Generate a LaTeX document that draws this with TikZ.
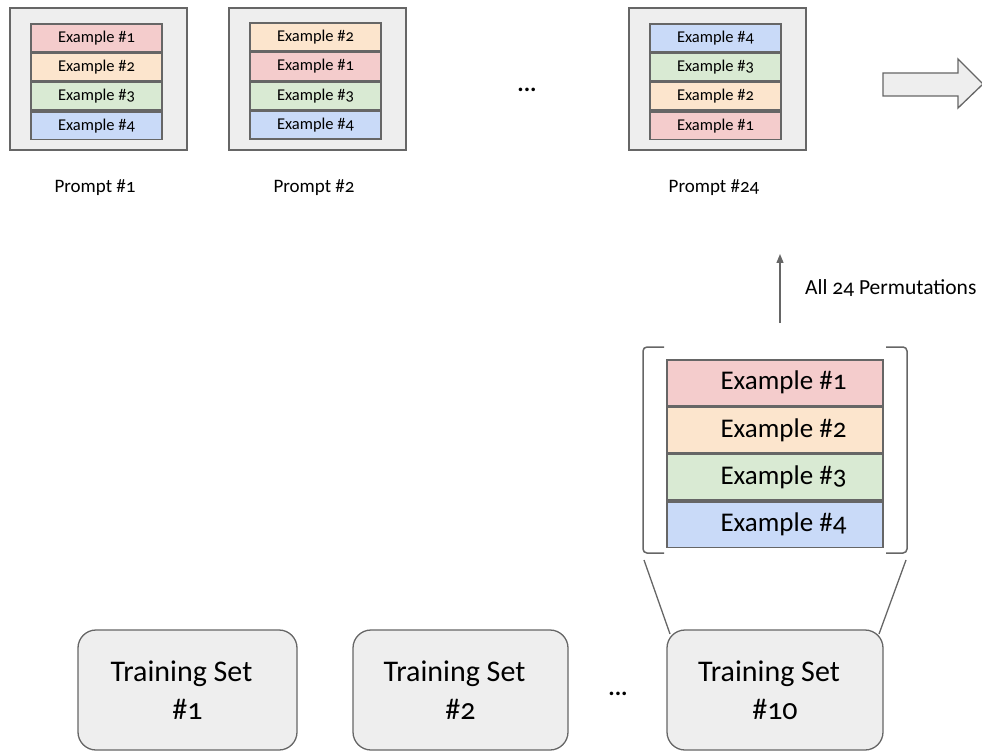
\documentclass[tikz,border=0pt]{standalone}
\usepackage{fontspec}
\setmainfont{Carlito}[Numbers=OldStyle]
\usetikzlibrary{arrows.meta}
\definecolor{rowred}{HTML}{F4CCCC}
\definecolor{roworange}{HTML}{FCE5CD}
\definecolor{rowgreen}{HTML}{D9EAD3}
\definecolor{rowblue}{HTML}{C9DAF8}
\definecolor{panel}{HTML}{EEEEEE}
\definecolor{edge}{HTML}{666666}
\begin{document}
\begin{tikzpicture}[x=1pt,y=-1pt,
  frame/.style={draw=edge, fill=panel, line width=1.6pt, minimum width=177pt, minimum height=142pt, inner sep=0pt},
  srow/.style={draw=edge, line width=1.6pt, minimum width=131pt, minimum height=27.75pt, inner sep=0pt, anchor=north, font=\fontsize{16.5}{18}\selectfont},
  brow/.style={draw=edge, line width=1.6pt, minimum width=216pt, minimum height=45.75pt, inner sep=0pt, anchor=north, font=\fontsize{27}{30}\selectfont},
  tset/.style={draw=edge, fill=panel, line width=1.3pt, rounded corners=18pt, minimum height=120pt, inner sep=0pt, align=center, font=\fontsize{30}{38}\selectfont},
  caption/.style={font=\fontsize{19}{22}\selectfont, inner sep=0pt},
  dots/.style={font=\bfseries\fontsize{24}{24}\selectfont, inner sep=0pt},
  conn/.style={draw=edge, line width=1.3pt},
  bracket/.style={draw=edge, line width=1.5pt, rounded corners=4pt}
]
\useasboundingbox (0,0) rectangle (982,751);

% Prompt #1
\node[frame] (p1) at (98.5,79) {};
\node[srow, fill=rowred]    (p1a) at (96.5,23) {Example \#1};
\node[srow, fill=roworange] (p1b) at (p1a.south) {Example \#2};
\node[srow, fill=rowgreen]  (p1c) at (p1b.south) {Example \#3};
\node[srow, fill=rowblue]   (p1d) at (p1c.south) {Example \#4};
\node[caption] (c1) at (95,188) {Prompt \#1};

% Prompt #2
\node[frame] (p2) at (317.5,79) {};
\node[srow, fill=roworange] (p2a) at (315.5,22.5) {Example \#2};
\node[srow, fill=rowred]    (p2b) at (p2a.south) {Example \#1};
\node[srow, fill=rowgreen]  (p2c) at (p2b.south) {Example \#3};
\node[srow, fill=rowblue]   (p2d) at (p2c.south) {Example \#4};
\node[caption] (c2) at (314,188) {Prompt \#2};

\node[dots] (topdots) at (527,90) {...};

% Prompt #24
\node[frame] (p24) at (717.5,79) {};
\node[srow, fill=rowblue]   (p24a) at (715.5,23) {Example \#4};
\node[srow, fill=rowgreen]  (p24b) at (p24a.south) {Example \#3};
\node[srow, fill=roworange] (p24c) at (p24b.south) {Example \#2};
\node[srow, fill=rowred]    (p24d) at (p24c.south) {Example \#1};
\node[caption] (c24) at (714,188) {Prompt \#24};

% block arrow
\draw[draw=edge, fill=panel, line width=1.3pt]
  (883,73) -- (958,73) -- (958,59) -- (983,84) -- (958,108) -- (958,96) -- (883,96) -- cycle;

% permutations arrow
\coordinate (ufrom) at (780,323);
\coordinate (uto) at (780,254);
\draw[conn, -{Triangle[length=9pt,width=7pt]}] (ufrom) -- (uto);
\node[anchor=west, inner sep=0pt, font=\fontsize{21.5}{24}\selectfont] (perm) at (805,288) {All 24 Permutations};

% big stack
\node[brow, fill=rowred]    (b1) at (775,359) {\hspace*{17pt}Example \#1};
\node[brow, fill=roworange] (b2) at (b1.south) {\hspace*{17pt}Example \#2};
\node[brow, fill=rowgreen]  (b3) at (b2.south) {\hspace*{17pt}Example \#3};
\node[brow, fill=rowblue]   (b4) at (b3.south) {\hspace*{17pt}Example \#4};

% brackets
\draw[bracket] (664,347) -- (643,347) -- (643,553) -- (664,553);
\draw[bracket] (886,347) -- (907,347) -- (907,553) -- (886,553);

% training sets
\node[tset, minimum width=219pt] (t1) at (187.5,690) {Training Set\hspace*{12pt}\\\#1};
\node[tset, minimum width=215pt] (t2) at (460.5,690) {Training Set\hspace*{12pt}\\\#2};
\node[dots] (botdots) at (618,694) {...};
\node[tset, minimum width=216pt] (t3) at (775,690) {Training Set\hspace*{12pt}\\\#10};

% zoom lines
\coordinate (bl) at (644,560);
\coordinate (br) at (906,560);
\coordinate (tl) at (670,634);
\coordinate (tr) at (879,634);
\draw[conn] (bl) -- (tl);
\draw[conn] (br) -- (tr);
\end{tikzpicture}
\end{document}
